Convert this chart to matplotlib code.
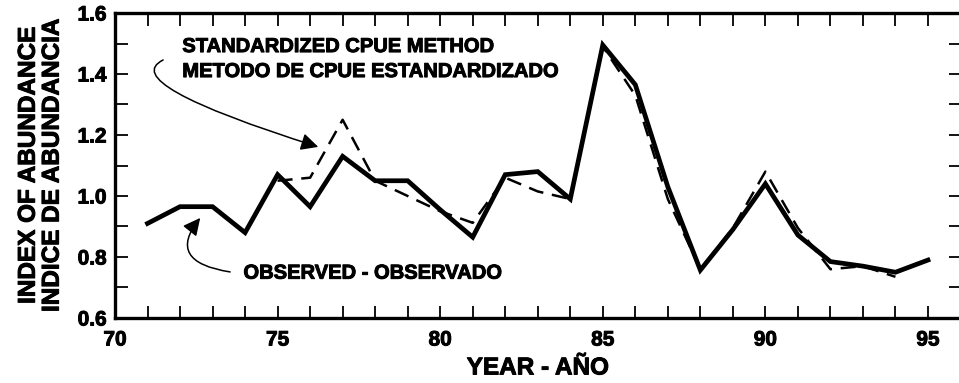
import matplotlib
matplotlib.use("Agg")
import matplotlib.pyplot as plt
import matplotlib.patheffects as pe
from matplotlib.patches import FancyArrowPatch
from matplotlib.path import Path
from matplotlib.ticker import MultipleLocator

plt.rcParams['font.family'] = ['Liberation Sans', 'DejaVu Sans']
plt.rcParams['font.weight'] = 'bold'

# Observed index, 1971-1995
obs_years = [71, 72, 73, 74, 75, 76, 77, 78, 79, 80, 81, 82, 83,
             84, 85, 86, 87, 88, 89, 90, 91, 92, 93, 94, 95]
obs_index = [0.91, 0.965, 0.965, 0.88, 1.07, 0.965, 1.13, 1.05, 1.05,
             0.955, 0.865, 1.07, 1.08, 0.99, 1.495, 1.365, 1.03, 0.757,
             0.89, 1.04, 0.872, 0.785, 0.77, 0.75, 0.79]

# Standardized CPUE index, 1975-1994
std_years = [75, 76, 77, 78, 79, 80, 81, 82, 83, 84, 85, 86, 87,
             88, 89, 90, 91, 92, 93, 94]
std_index = [1.05, 1.06, 1.25, 1.05, 1.0, 0.95, 0.912, 1.06, 1.015, 0.99,
             1.49, 1.33, 0.99, 0.76, 0.895, 1.08, 0.895, 0.76, 0.77, 0.735]

x_major = [70, 75, 80, 85, 90, 95]
y_major = [0.6, 0.8, 1.0, 1.2, 1.4, 1.6]

# slightly heavier strokes for all lettering
heavy = [pe.withStroke(linewidth=0.7, foreground='black')]

fig = plt.figure(figsize=(9.59, 3.83), dpi=100)
ax = fig.add_axes([115 / 959, 65 / 383, 845.5 / 959, 305 / 383])

ax.plot(obs_years, obs_index, color='black', lw=3.4,
        solid_joinstyle='miter', zorder=3)
ax.plot(std_years, std_index, color='black', lw=1.8,
        linestyle=(0, (6, 3.5)), zorder=2)

ax.set_xlim(70, 96)
ax.set_ylim(0.6, 1.6)
ax.set_xticks(x_major)
ax.set_xticklabels([str(v) for v in x_major])
ax.set_yticks(y_major)
ax.set_yticklabels(['%.1f' % v for v in y_major])
ax.xaxis.set_minor_locator(MultipleLocator(1))
ax.yaxis.set_minor_locator(MultipleLocator(0.1))

ax.tick_params(which='both', direction='in', top=True, right=True,
               length=9, width=1.3)
ax.tick_params(axis='x', which='major', labelsize=15, pad=9)
ax.tick_params(axis='y', which='major', labelsize=15, pad=6)
for sp in ax.spines.values():
    sp.set_linewidth(2.4)
for lbl in ax.get_xticklabels() + ax.get_yticklabels():
    lbl.set_path_effects(heavy)

ax.set_xlabel('YEAR - AÑO', fontsize=17.5, fontweight='bold', labelpad=5,
              path_effects=heavy)
ax.set_ylabel('INDEX OF ABUNDANCE\nINDICE DE ABUNDANCIA', fontsize=17.5,
              fontweight='bold', linespacing=1.05, labelpad=10,
              path_effects=heavy)

# labels for the two series
ax.text(72.07, 1.449, 'STANDARDIZED CPUE METHOD\nMETODO DE CPUE ESTANDARDIZADO',
        fontsize=14.5, fontweight='bold', ha='left', va='center',
        linespacing=1.4, path_effects=heavy)
ax.text(73.95, 0.747, 'OBSERVED - OBSERVADO', fontsize=14.5,
        fontweight='bold', ha='left', va='center', path_effects=heavy)

# curved pointers from each label to its line
curve_std = Path([(71.48, 1.446), (70.03, 1.370), (76.25, 1.161)],
                 [Path.MOVETO, Path.CURVE3, Path.CURVE3])
curve_obs = Path([(73.54, 0.751), (71.54, 0.784), (72.62, 0.928)],
                 [Path.MOVETO, Path.CURVE3, Path.CURVE3])
for p in (curve_std, curve_obs):
    arr = FancyArrowPatch(path=p, arrowstyle='-|>', mutation_scale=26,
                          lw=1.1, color='black', transform=ax.transData)
    ax.add_patch(arr)

fig.savefig('out.png', dpi=100)
